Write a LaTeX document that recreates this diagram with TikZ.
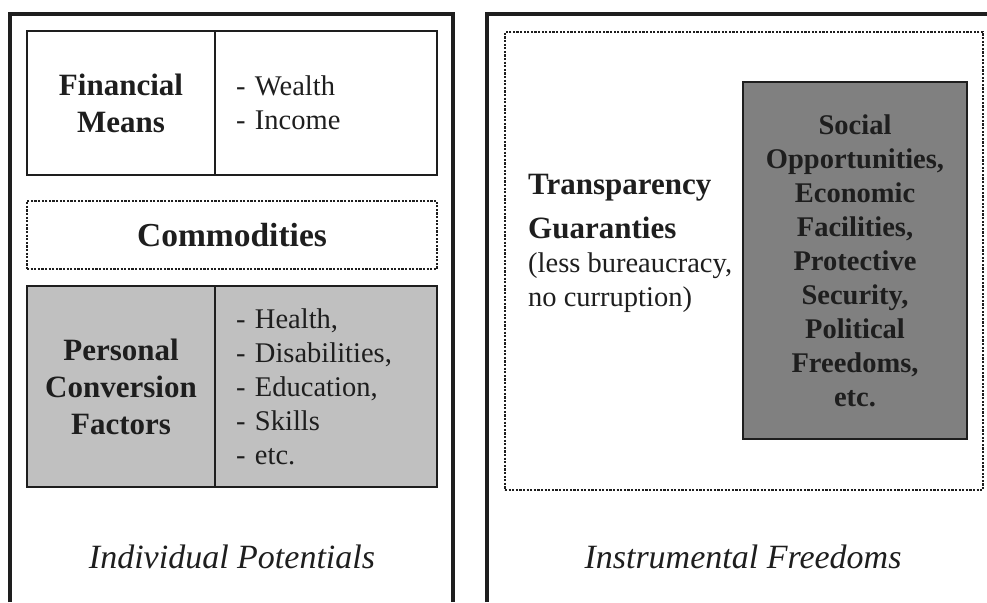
\documentclass[tikz,border=0pt]{standalone}
\usepackage{fontspec}
\setmainfont{Liberation Serif}
\definecolor{ink}{HTML}{1E1E1E}
\definecolor{lightgrey}{HTML}{C0C0C0}
\definecolor{darkgrey}{HTML}{808080}
\tikzset{frame/.style={draw=ink, line width=3.2pt}}
\tikzset{cell/.style={draw=ink, line width=2.8pt, inner sep=0pt, text=ink}}
\tikzset{dotbox/.style={draw=ink, line width=2.6pt, dash pattern=on 2.2pt off 1.4pt, inner sep=0pt, text=ink}}
\tikzset{head/.style={font=\fontsize{31}{37}\selectfont\bfseries, align=center}}
\tikzset{items/.style={font=\fontsize{28.5}{34}\selectfont, align=left}}
\tikzset{caption/.style={font=\fontsize{34}{40}\selectfont\itshape, text=ink}}

\begin{document}
\begin{tikzpicture}[x=1pt, y=-1pt]
\useasboundingbox (0,0) rectangle (987,602);
% outer frames, open at the bottom
\draw[frame] (10,602) -- (10,14) -- (453,14) -- (453,602);
\draw[frame] (487,602) -- (487,14) -- (990,14);
% left side
\node[cell, head, minimum width=188pt, minimum height=144pt] (fin) at (121,103) {Financial\\Means};
\node[cell, items, minimum width=222pt, minimum height=144pt, text width=180pt] (finlist) at (326,103) {- Wealth\\- Income};
\node[dotbox, minimum width=410pt, minimum height=68pt, font=\fontsize{33.5}{40}\selectfont\bfseries] (comm) at (232,235) {Commodities};
\node[cell, head, fill=lightgrey, minimum width=188pt, minimum height=201pt] (pcf) at (121,386.5) {Personal\\Conversion\\Factors};
\node[cell, items, fill=lightgrey, minimum width=222pt, minimum height=201pt, text width=180pt] (pcflist) at (326,386.5) {- Health,\\- Disabilities,\\- Education,\\- Skills\\- etc.};
\node[caption] (indiv) at (232,557) {Individual Potentials};
% right side
\node[dotbox, minimum width=478pt, minimum height=458pt] (instr) at (744,261) {};
\node[cell, fill=darkgrey, minimum width=224pt, minimum height=357pt, font=\fontsize{28.5}{34}\selectfont\bfseries, align=center] (opps) at (855,260.5) {Social\\Opportunities,\\Economic\\Facilities,\\Protective\\Security,\\Political\\Freedoms,\\etc.};
\node[items, text=ink, anchor=west, inner sep=0pt] (transp) at (528,243) {{\fontsize{31}{37}\selectfont\bfseries Transparency}\\[10pt]{\fontsize{31}{37}\selectfont\bfseries Guaranties}\\(less bureaucracy,\\no curruption)};
\node[caption] (instrcap) at (743,557) {Instrumental Freedoms};
\end{tikzpicture}
\end{document}
